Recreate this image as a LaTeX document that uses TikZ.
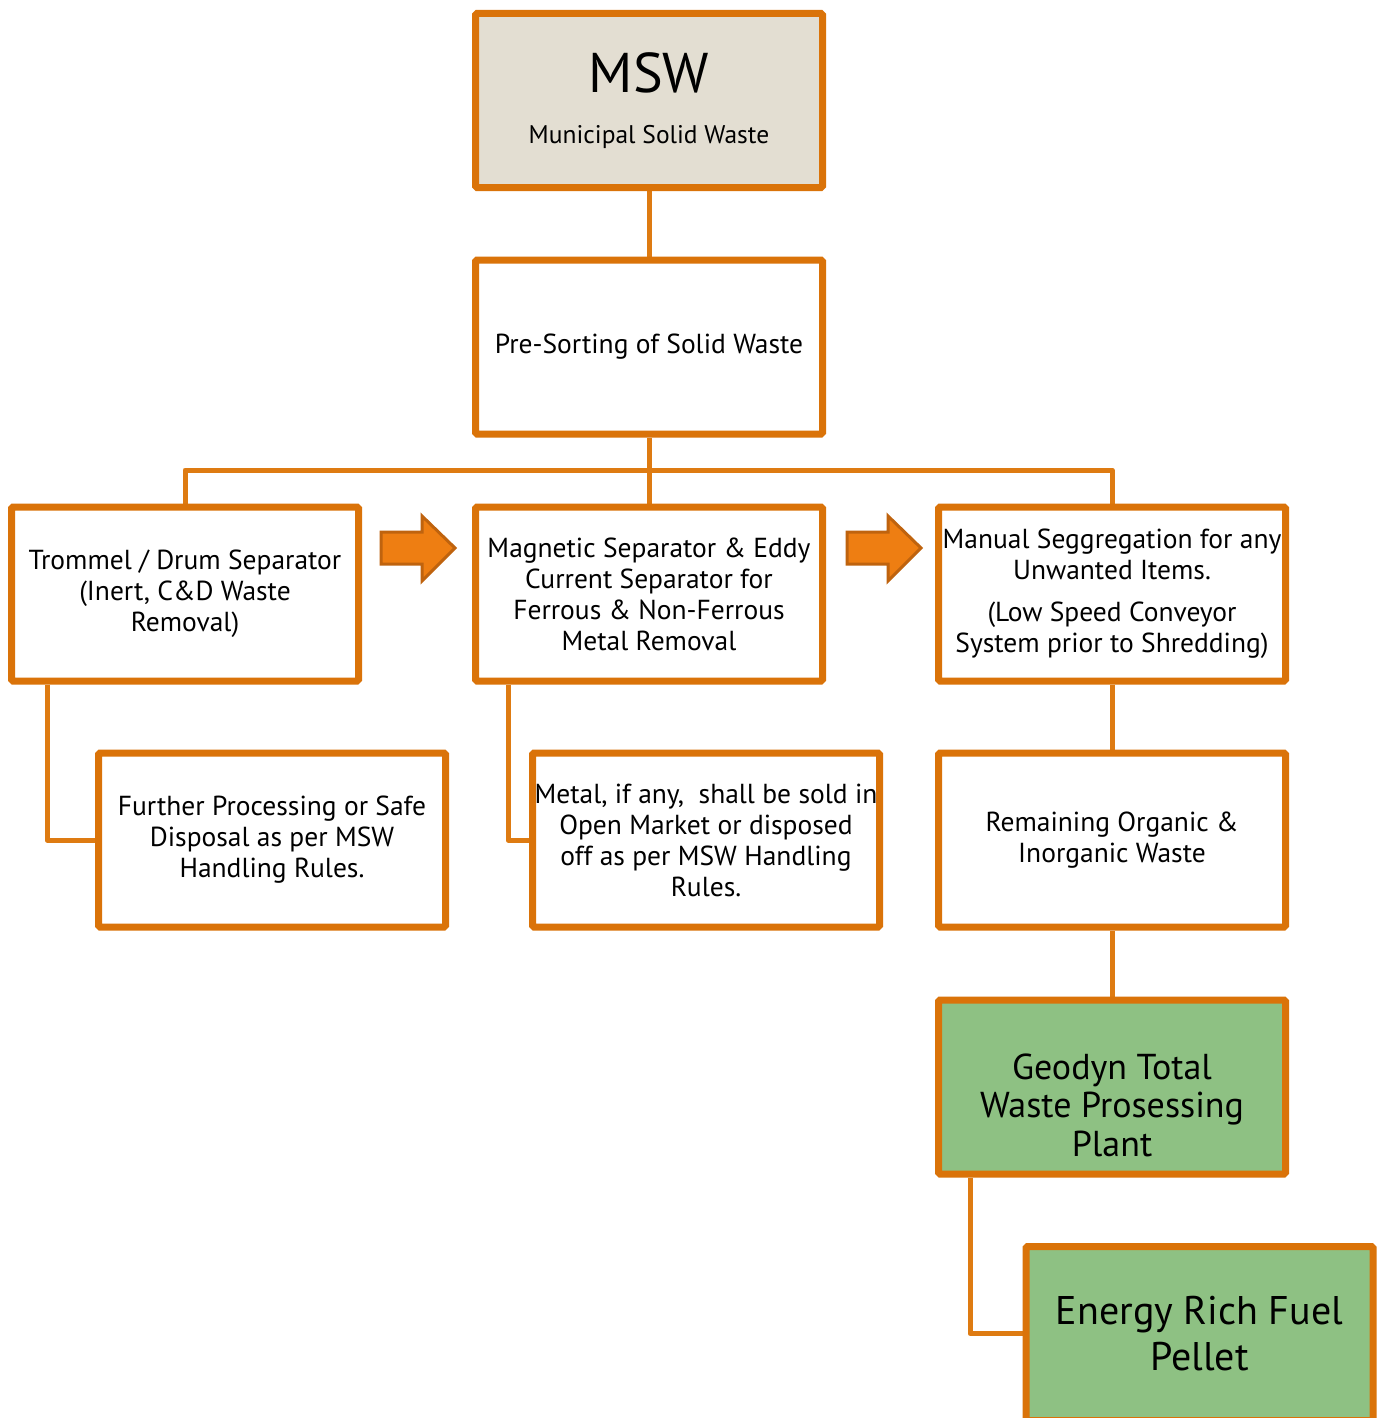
\documentclass[tikz,border=0pt]{standalone}
\usepackage{fontspec}
\setmainfont{PT Sans}
\usetikzlibrary{backgrounds,shadows}
\definecolor{bord}{HTML}{DA7309}
\definecolor{conn}{HTML}{DE7B12}
\definecolor{beige}{HTML}{E3DED2}
\definecolor{leaf}{HTML}{8EC183}
\definecolor{arrfill}{HTML}{EE7E12}
\definecolor{arrline}{HTML}{BF630E}
\begin{document}
\begin{tikzpicture}[x=1pt,y=-1pt,
  box/.style={draw=bord, line width=7pt, fill=white, rounded corners=1.5pt,
    minimum width=347pt, minimum height=174pt, inner sep=0pt, align=center,
    font=\fontsize{27.5}{31}\selectfont,
    drop shadow={opacity=0.22, shadow xshift=1.5pt, shadow yshift=-2.5pt}},
  greenbox/.style={box, fill=leaf},
  link/.style={draw=conn, line width=5pt, line join=round},
  blockarrow/.style={fill=arrfill, draw=arrline, line width=3pt, line join=miter}
]
\useasboundingbox (0,0) rectangle (1383,1418);

\node[box, fill=beige] (msw) at (649,100.5) {%
  {\fontsize{56}{60}\selectfont MSW}\\[20pt]
  {\fontsize{25.5}{28}\selectfont Municipal Solid Waste}};
\node[box] (pre) at (649,347) {Pre-Sorting of Solid Waste};

\node[box] (trommel) at (185,594) {Trommel / Drum Separator\\(Inert, C\&D Waste\\Removal)};
\node[box] (magnet) at (649,594) {Magnetic Separator \& Eddy\\Current Separator for\\Ferrous \& Non-Ferrous\\Metal Removal};
\node[box] (manual) at (1112,594) {Manual Seggregation for any\\Unwanted Items.\\[11pt](Low Speed Conveyor\\System prior to Shredding)};

\node[box] (further) at (272,840) {Further Processing or Safe\\Disposal as per MSW\\Handling Rules.};
\node[box] (metal) at (706,840) {Metal, if any,\ \ shall be sold in\\Open Market or disposed\\off as per MSW Handling\\Rules.};
\node[box] (remain) at (1112,840) {Remaining Organic \&\\Inorganic Waste};

\node[greenbox] (geodyn) at (1112,1087) {};
\node[align=center, inner sep=0pt, font=\fontsize{36}{38.5}\selectfont] (geodyntext) at ([yshift=-18pt]geodyn.center) {Geodyn Total\\Waste Prosessing\\Plant};
\node[greenbox, font=\fontsize{40}{46}\selectfont] (energy) at (1199.5,1333.5) {Energy Rich Fuel\\Pellet};

\coordinate (bus) at (649,470);

\begin{pgfonlayer}{background}
  \fill[white] (0,0) rectangle (1383,1418);
  \draw[link] (msw.south) -- (pre.north);
  \draw[link] (pre.south) -- (bus);
  \draw[link] (trommel.north) |- (bus) -| (manual.north);
  \draw[link] (bus) -- (magnet.north);
  \draw[link] ([xshift=39pt]trommel.south west) |- (further.west);
  \draw[link] ([xshift=36pt]magnet.south west) |- (metal.west);
  \draw[link] (manual.south) -- (remain.north);
  \draw[link] (remain.south) -- (geodyn.north);
  \draw[link] ([xshift=35pt]geodyn.south west) |- (energy.west);
\end{pgfonlayer}

\draw[blockarrow] (381,532) -- (422,532) -- (422,516) -- (455,548) -- (422,581) -- (422,564) -- (381,564) -- cycle;
\draw[blockarrow] (847,532) -- (888,532) -- (888,516) -- (921,548) -- (888,581) -- (888,564) -- (847,564) -- cycle;
\end{tikzpicture}
\end{document}
